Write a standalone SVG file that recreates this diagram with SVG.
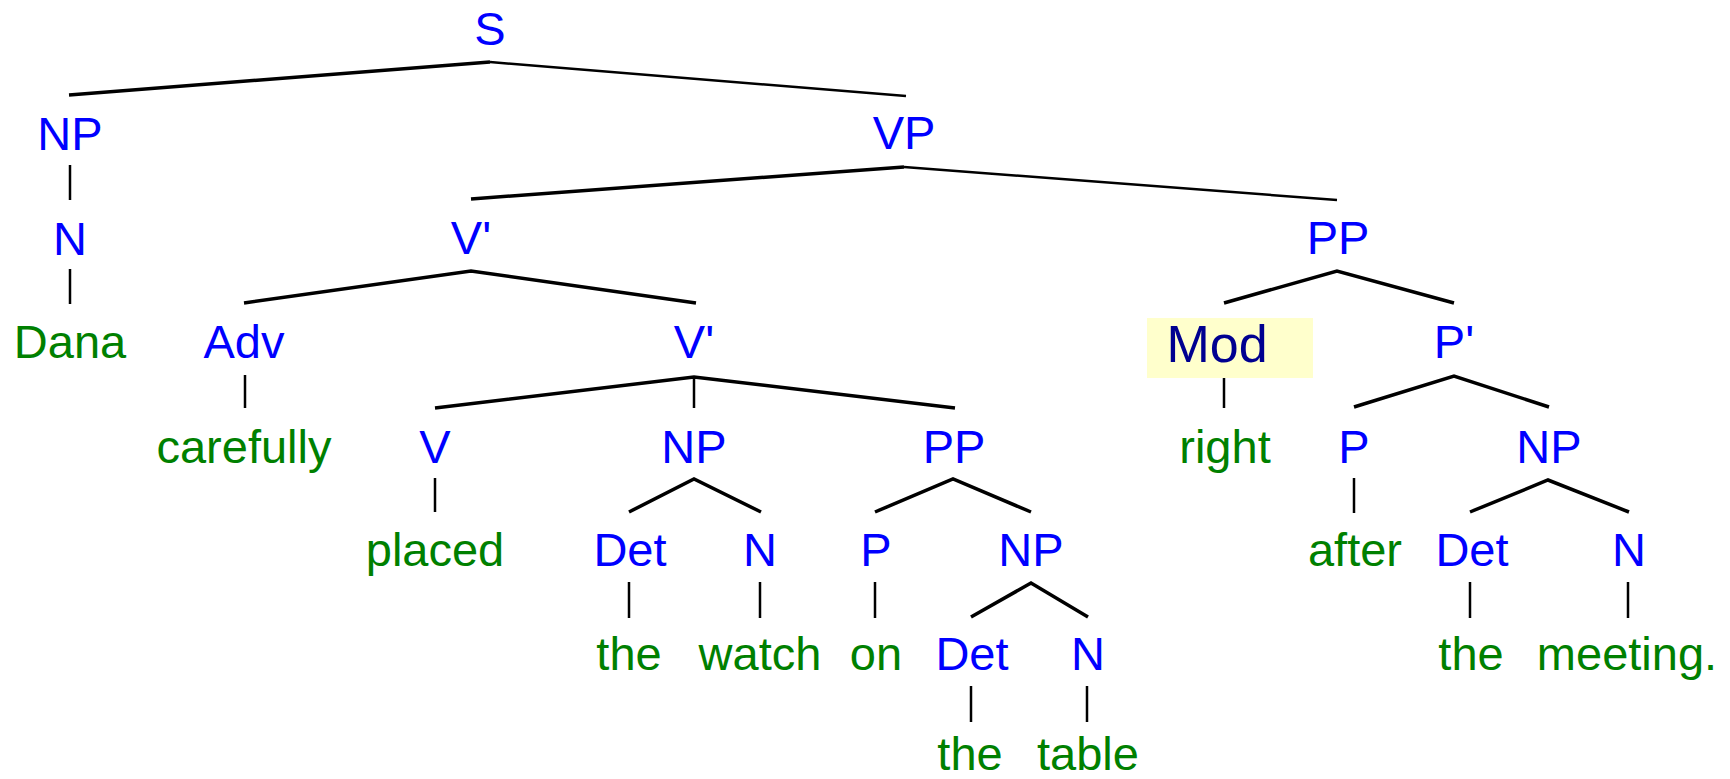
<svg xmlns="http://www.w3.org/2000/svg" width="1730" height="779" viewBox="0 0 1730 779">
<style>
text{font-family:"Liberation Sans",Arial,sans-serif;font-size:47px;text-anchor:middle}
.c{fill:#0000ff}
.w{fill:#008000}
.m{fill:#000090;font-size:52px}
.b{stroke:#000;stroke-width:3.5;fill:none;stroke-linejoin:miter}
.t{stroke:#000;stroke-width:2.5;fill:none}
.v{stroke:#000;stroke-width:2.5;fill:none}
</style>
<rect width="1730" height="779" fill="#fff"/>
<g id="connectors">
<line class="b" x1="490" y1="62" x2="69" y2="95"/>
<line class="t" x1="490" y1="62" x2="906" y2="96"/>
<line class="v" x1="70" y1="165" x2="70" y2="200"/>
<line class="v" x1="70" y1="269" x2="70" y2="304"/>
<line class="b" x1="904" y1="167" x2="471" y2="199"/>
<line class="t" x1="904" y1="167" x2="1337" y2="200"/>
<polyline class="b" points="244,303 471,271 696,303"/>
<line class="v" x1="245" y1="375" x2="245" y2="408"/>
<polyline class="b" points="435,408 694,377 955,408"/>
<line class="v" x1="694" y1="377" x2="694" y2="408"/>
<line class="v" x1="435" y1="478" x2="435" y2="512"/>
<polyline class="b" points="629,512 694,479 761,512"/>
<polyline class="b" points="875,512 953,479 1031,512"/>
<line class="v" x1="629" y1="582" x2="629" y2="618"/>
<line class="v" x1="760" y1="582" x2="760" y2="618"/>
<line class="v" x1="875" y1="582" x2="875" y2="618"/>
<polyline class="b" points="971,617 1031,583 1088,617"/>
<line class="v" x1="971" y1="686" x2="971" y2="722"/>
<line class="v" x1="1087" y1="686" x2="1087" y2="722"/>
<polyline class="b" points="1224,303 1337,271 1454,303"/>
<line class="v" x1="1224" y1="378" x2="1224" y2="408"/>
<polyline class="b" points="1354,407 1454,376 1549,407"/>
<line class="v" x1="1354" y1="478" x2="1354" y2="513"/>
<polyline class="b" points="1470,512 1548,480 1629,512"/>
<line class="v" x1="1470" y1="582" x2="1470" y2="618"/>
<line class="v" x1="1628" y1="582" x2="1628" y2="618"/>
</g>
<g id="n-S"><text class="c" x="490" y="45">S</text></g>
<g id="n-NP1"><text class="c" x="70" y="150">NP</text></g>
<g id="n-N1"><text class="c" x="70" y="255">N</text></g>
<g id="n-Dana"><text class="w" x="70" y="358">Dana</text></g>
<g id="n-VP"><text class="c" x="904" y="149">VP</text></g>
<g id="n-Vbar1"><text class="c" x="471" y="254">V'</text></g>
<g id="n-Adv"><text class="c" x="244" y="358">Adv</text></g>
<g id="n-carefully"><text class="w" x="244" y="463">carefully</text></g>
<g id="n-Vbar2"><text class="c" x="694" y="358">V'</text></g>
<g id="n-V"><text class="c" x="435" y="463">V</text></g>
<g id="n-placed"><text class="w" x="435" y="566">placed</text></g>
<g id="n-NP2"><text class="c" x="694" y="463">NP</text></g>
<g id="n-Det1"><text class="c" x="630" y="566">Det</text></g>
<g id="n-the1"><text class="w" x="629" y="670">the</text></g>
<g id="n-N2"><text class="c" x="760" y="566">N</text></g>
<g id="n-watch"><text class="w" x="760" y="670">watch</text></g>
<g id="n-PP1"><text class="c" x="954" y="463">PP</text></g>
<g id="n-P1"><text class="c" x="876" y="566">P</text></g>
<g id="n-on"><text class="w" x="876" y="670">on</text></g>
<g id="n-NP3"><text class="c" x="1031" y="566">NP</text></g>
<g id="n-Det2"><text class="c" x="972" y="670">Det</text></g>
<g id="n-the2"><text class="w" x="970" y="770">the</text></g>
<g id="n-N3"><text class="c" x="1088" y="670">N</text></g>
<g id="n-table"><text class="w" x="1088" y="770">table</text></g>
<g id="n-PP2"><text class="c" x="1338" y="254">PP</text></g>
<g id="n-Mod"><rect x="1147" y="318" width="166" height="60" fill="#ffffcc"/><text class="m" x="1217" y="362">Mod</text></g>
<g id="n-right"><text class="w" x="1225" y="463">right</text></g>
<g id="n-Pbar"><text class="c" x="1454" y="358">P'</text></g>
<g id="n-P2"><text class="c" x="1354" y="463">P</text></g>
<g id="n-after"><text class="w" x="1355" y="566">after</text></g>
<g id="n-NP4"><text class="c" x="1549" y="463">NP</text></g>
<g id="n-Det3"><text class="c" x="1472" y="566">Det</text></g>
<g id="n-the3"><text class="w" x="1471" y="670">the</text></g>
<g id="n-N4"><text class="c" x="1629" y="566">N</text></g>
<g id="n-meeting"><text class="w" x="1627" y="670">meeting.</text></g>
</svg>
